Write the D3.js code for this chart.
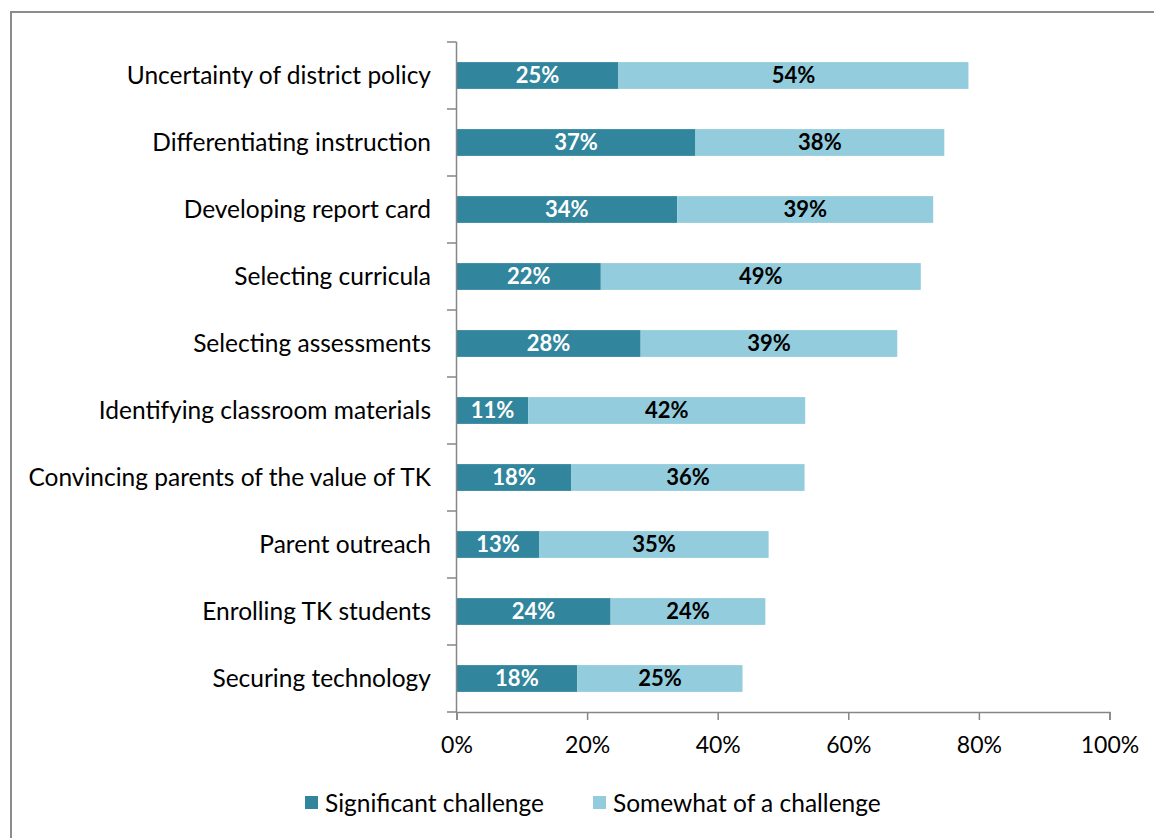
<!DOCTYPE html>
<html><head><meta charset="utf-8">
<script src="https://cdn.jsdelivr.net/npm/d3@7"></script>
<style>body{margin:0;background:#fff}svg{display:block}text{font-family:Lato,"Open Sans",sans-serif}</style>
</head><body><svg id="c" width="1154" height="838"></svg>
<script>
const categories = ["Uncertainty of district policy","Differentiating instruction","Developing report card","Selecting curricula","Selecting assessments","Identifying classroom materials","Convincing parents of the value of TK","Parent outreach","Enrolling TK students","Securing technology"];
const significant = [24.8,36.6,33.8,22.1,28.2,11.0,17.6,12.7,23.6,18.5];
const somewhat = [53.6,38.1,39.2,49.0,39.3,42.4,35.7,35.1,23.7,25.3];
const significantLabels = ["25%","37%","34%","22%","28%","11%","18%","13%","24%","18%"];
const somewhatLabels = ["54%","38%","39%","49%","39%","42%","36%","35%","24%","25%"];
const xTicks = [0,20,40,60,80,100];
const seriesNames = ["Significant challenge","Somewhat of a challenge"];
const colors = ["#31859C","#93CDDD"];

const svg = d3.select("#c");
svg.append("rect").attr("x",11).attr("y",12).attr("width",1160).attr("height",840)
  .attr("fill","none").attr("stroke","#8c8c8c").attr("stroke-width",2);

const x = d3.scaleLinear().domain([0,100]).range([456.5,1109.5]);
const y = d3.scaleBand().domain(categories).range([42,712]).paddingInner(0.6).paddingOuter(0.3);
const yb = d3.scaleBand().domain(categories).range([42,712]);

const g = svg.append("g");
categories.forEach((c,i)=>{
  const y0 = y(c), h = y.bandwidth();
  g.append("rect").attr("x",x(0)).attr("y",y0).attr("width",x(significant[i])-x(0)).attr("height",h).attr("fill",colors[0]);
  g.append("rect").attr("x",x(significant[i])).attr("y",y0).attr("width",x(significant[i]+somewhat[i])-x(significant[i])).attr("height",h).attr("fill",colors[1]);
  g.append("text").attr("x",(x(0)+x(significant[i]))/2).attr("y",y0+h/2).attr("dy","0.36em")
    .attr("text-anchor","middle").attr("font-size",22).attr("font-weight","bold").attr("fill","#fff").text(significantLabels[i]);
  g.append("text").attr("x",(x(significant[i])+x(significant[i]+somewhat[i]))/2).attr("y",y0+h/2).attr("dy","0.36em")
    .attr("text-anchor","middle").attr("font-size",22).attr("font-weight","bold").attr("fill","#000").text(somewhatLabels[i]);
});

// y axis with ticks at band boundaries
const ya = svg.append("g");
ya.append("line").attr("x1",456.5).attr("x2",456.5).attr("y1",42).attr("y2",712).attr("stroke","#868686").attr("stroke-width",1.5);
const bounds = categories.map(c=>yb(c)).concat([712]);
bounds.forEach(b=>ya.append("line").attr("x1",447).attr("x2",456.5).attr("y1",b).attr("y2",b).attr("stroke","#868686").attr("stroke-width",1.5));
categories.forEach(c=>ya.append("text").attr("x",431).attr("y",yb(c)+yb.bandwidth()/2).attr("dy","0.36em")
  .attr("text-anchor","end").attr("font-size",24.5).attr("fill","#000").text(c));

// x axis
const xa = svg.append("g").attr("transform","translate(0,712)")
  .call(d3.axisBottom(x).tickValues(xTicks).tickFormat(d=>d+"%").tickSize(8).tickPadding(17));
xa.select(".domain").attr("stroke","#868686").attr("stroke-width",1.5);
xa.selectAll(".tick line").attr("stroke","#868686").attr("stroke-width",1.5);
xa.selectAll("text").attr("font-size",23).attr("fill","#000").attr("font-family","Lato,'Open Sans',sans-serif");

// legend
const leg = [{x:305,t:seriesNames[0],c:colors[0]},{x:593,t:seriesNames[1],c:colors[1]}];
leg.forEach(l=>{
  svg.append("rect").attr("x",l.x).attr("y",796).attr("width",13).attr("height",13).attr("fill",l.c);
  svg.append("text").attr("x",l.x+20).attr("y",803).attr("dy","0.36em").attr("font-size",24.5).attr("fill","#000").text(l.t);
});
</script></body></html>
